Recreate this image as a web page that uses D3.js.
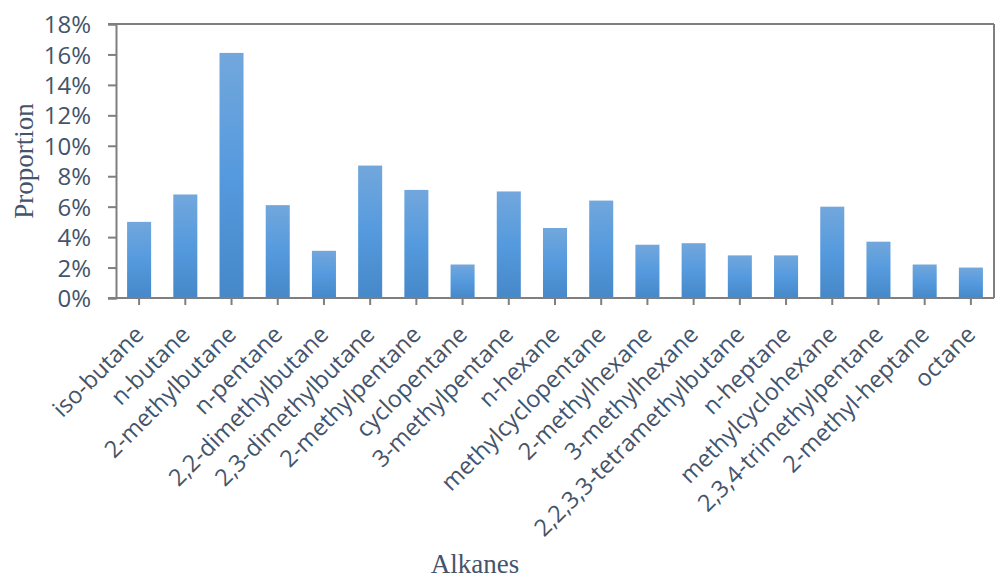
<!DOCTYPE html>
<html>
<head>
<meta charset="utf-8">
<script src="https://cdn.jsdelivr.net/npm/d3@7"></script>
<style>
  body { margin: 0; background: #fff; }
  .tick text { font-family: "Open Sans", sans-serif; }
</style>
</head>
<body>
<div id="chart"></div>
<script>
// data
var alkanes = ["iso-butane", "n-butane", "2-methylbutane", "n-pentane", "2,2-dimethylbutane",
  "2,3-dimethylbutane", "2-methylpentane", "cyclopentane", "3-methylpentane", "n-hexane",
  "methylcyclopentane", "2-methylhexane", "3-methylhexane", "2,2,3,3-tetramethylbutane",
  "n-heptane", "methylcyclohexane", "2,3,4-trimethylpentane", "2-methyl-heptane", "octane"];
var proportion = [0.050, 0.068, 0.161, 0.061, 0.031, 0.087, 0.071, 0.022, 0.070, 0.046,
  0.064, 0.035, 0.036, 0.028, 0.028, 0.060, 0.037, 0.022, 0.020];
var yTicks = [0, 0.02, 0.04, 0.06, 0.08, 0.10, 0.12, 0.14, 0.16, 0.18];

var W = 995, H = 579;
var margin = {top: 24, right: 1, bottom: 281, left: 116};
var width = W - margin.left - margin.right,
    height = H - margin.top - margin.bottom;

var textColor = "#44546a", axisColor = "#7f7f7f";

var svg = d3.select("#chart").append("svg").attr("width", W).attr("height", H);

var grad = svg.append("defs").append("linearGradient")
  .attr("id", "barGrad").attr("x1", 0).attr("y1", 0).attr("x2", 0).attr("y2", 1);
grad.append("stop").attr("offset", "0%").attr("stop-color", "#72a7dc");
grad.append("stop").attr("offset", "50%").attr("stop-color", "#559ade");
grad.append("stop").attr("offset", "100%").attr("stop-color", "#4688c8");

var g = svg.append("g").attr("transform", "translate(" + margin.left + "," + margin.top + ")");

var x = d3.scaleBand().domain(alkanes).range([0, width]).paddingInner(0.48).paddingOuter(0.24);
var y = d3.scaleLinear().domain([0, 0.18]).range([height, 0]);

// frame: top and right
g.append("line").attr("x1", -8).attr("x2", width).attr("y1", 0).attr("y2", 0)
  .attr("stroke", axisColor).attr("stroke-width", 2);
g.append("line").attr("x1", width).attr("x2", width).attr("y1", 0).attr("y2", height)
  .attr("stroke", axisColor).attr("stroke-width", 2);

// bars
g.selectAll(".bar")
  .data(proportion)
  .enter().append("rect")
  .attr("class", "bar")
  .attr("x", function(d, i) { return x(alkanes[i]); })
  .attr("width", x.bandwidth())
  .attr("y", function(d) { return y(d); })
  .attr("height", function(d) { return height - y(d); })
  .attr("fill", "url(#barGrad)");

// y axis
var yAxis = g.append("g")
  .call(d3.axisLeft(y).tickValues(yTicks).tickFormat(d3.format(".0%")).tickSize(8).tickPadding(17));
yAxis.select(".domain").attr("stroke", axisColor).attr("stroke-width", 2);
yAxis.selectAll(".tick line").attr("stroke", axisColor).attr("stroke-width", 2);
yAxis.selectAll(".tick text").attr("fill", textColor).style("font-size", "24px")
  .attr("dy", "0.36em");

// x axis
var xAxis = g.append("g")
  .attr("transform", "translate(0," + height + ")")
  .call(d3.axisBottom(x).tickSize(7).tickSizeOuter(0));
xAxis.select(".domain").attr("stroke", axisColor).attr("stroke-width", 2)
  .attr("d", "M-8,0H" + width);
xAxis.selectAll(".tick line").attr("stroke", axisColor).attr("stroke-width", 2);
xAxis.selectAll(".tick text")
  .attr("fill", textColor)
  .style("font-size", "23.5px")
  .attr("text-anchor", "end")
  .attr("x", 0).attr("y", 0).attr("dy", 0)
  .attr("transform", "translate(6,38) rotate(-45)");

// axis titles
svg.append("text")
  .attr("transform", "translate(33,161) rotate(-90)")
  .attr("text-anchor", "middle")
  .attr("fill", textColor)
  .style("font-family", "'Liberation Serif', 'Times New Roman', serif")
  .style("font-size", "27px")
  .text("Proportion");

svg.append("text")
  .attr("x", 475).attr("y", 573)
  .attr("text-anchor", "middle")
  .attr("fill", textColor)
  .style("font-family", "'Liberation Serif', 'Times New Roman', serif")
  .style("font-size", "27px")
  .text("Alkanes");
</script>
</body>
</html>
